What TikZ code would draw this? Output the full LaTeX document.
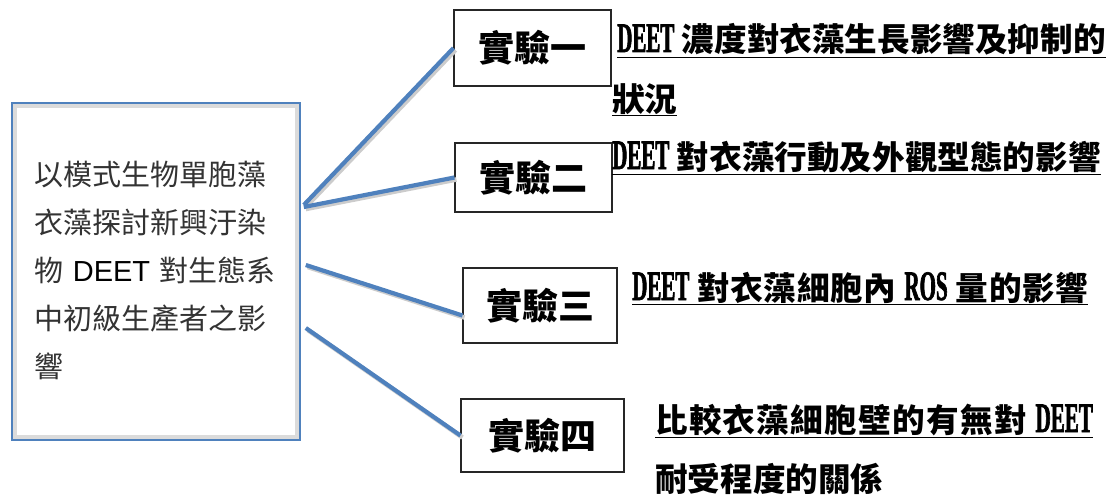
\documentclass[tikz,border=0pt]{standalone}
\usepackage{fontspec}
\setmainfont{Liberation Serif}
\newfontfamily\cjk{Noto Sans CJK TC}
\newfontfamily\deetfont[FakeStretch=0.5,FakeBold=1.5]{Liberation Serif}
\newfontfamily\arialf{Liberation Sans}
\usetikzlibrary{shadows,calc}
\definecolor{accent}{HTML}{4F81BD}
\newcommand\nlat[1]{{\deetfont\fontsize{42}{42}\selectfont #1}}
\tikzset{
  mainbox/.style={draw=accent, line width=1.6pt, fill=white, minimum width=288, minimum height=337, inner sep=0pt},
  innerframe/.style={draw=black!14, line width=4pt},
  expbox/.style={draw=black!85, line width=1.1pt, fill=white, inner sep=0pt,
    font=\cjk\bfseries\fontsize{36}{36}\selectfont},
  desc/.style={anchor=base west, inner sep=0pt, font=\cjk\bfseries\fontsize{32.6}{32.6}\selectfont},
  conn/.style={draw=accent, line width=4.2pt},
  connshadow/.style={draw=black!20, line width=4.6pt},
}
\begin{document}
\begin{tikzpicture}[x=1pt,y=-1pt]
\useasboundingbox (0,0) rectangle (1114,495);

% main box
\node[mainbox] (left) at (156,271.5) {};
\draw[innerframe] ($(left.north west)+(3.5,3.5)$) rectangle ($(left.south east)+(-3.5,-3.5)$);
\node[anchor=west, inner sep=0pt, text width=250pt, align=left, text=black!80,
      font=\cjk\fontsize{29}{48}\selectfont] (lefttext) at (34,270)
  {以模式生物單胞藻\\衣藻探討新興汙染\\物 {\arialf\color{black}DEET} 對生態系\\中初級生產者之影\\響};

% experiment boxes
\node[expbox, minimum width=157, minimum height=76] (e1) at (532.5,48) {實驗一};
\node[expbox, minimum width=157, minimum height=69] (e2) at (533.5,177.5) {實驗二};
\node[expbox, minimum width=154, minimum height=75] (e3) at (540,305.5) {實驗三};
\node[expbox, minimum width=163, minimum height=73] (e4) at (542.5,435.5) {實驗四};

% connector start points
\coordinate (s1) at ($(left.east)+(3,-66.5)$);
\coordinate (s2) at ($(left.east)+(3,-64.5)$);
\coordinate (s3) at ($(left.east)+(5,-6.5)$);
\coordinate (s4) at ($(left.east)+(5,56.5)$);
\coordinate (t3) at ($(e3.west)+(0,10)$);

% connector shadows
\begin{scope}[transform canvas={shift={(2pt,-2pt)}}]
\draw[connshadow] (s1) -- (e1.west);
\draw[connshadow] (s2) -- (e2.west);
\draw[connshadow] (s3) -- (t3);
\draw[connshadow] (s4) -- (e4.west);
\end{scope}
% connectors
\draw[conn] (s1) -- (e1.west);
\draw[conn] (s2) -- (e2.west);
\draw[conn] (s3) -- (t3);
\draw[conn] (s4) -- (e4.west);

% descriptions
\node[desc] (d1a) at (617,52) {\underline{\nlat{DEET} 濃度對衣藻生長影響及抑制的}};
\node[desc] (d1b) at (612,111) {\underline{狀況}};
\node[desc] (d2) at (612,169) {\underline{\nlat{DEET} 對衣藻行動及外觀型態的影響}};
\node[desc] (d3) at (632,300) {\underline{\addfontfeature{LetterSpace=2}\nlat{DEET} 對衣藻細胞內 \nlat{ROS} 量的影響}};
\node[desc] (d4a) at (655,432) {\underline{\addfontfeature{LetterSpace=4}比較衣藻細胞壁的有無對 \nlat{DEET}}};
\node[desc] (d4b) at (655,491) {耐受程度的關係};
\end{tikzpicture}
\end{document}
